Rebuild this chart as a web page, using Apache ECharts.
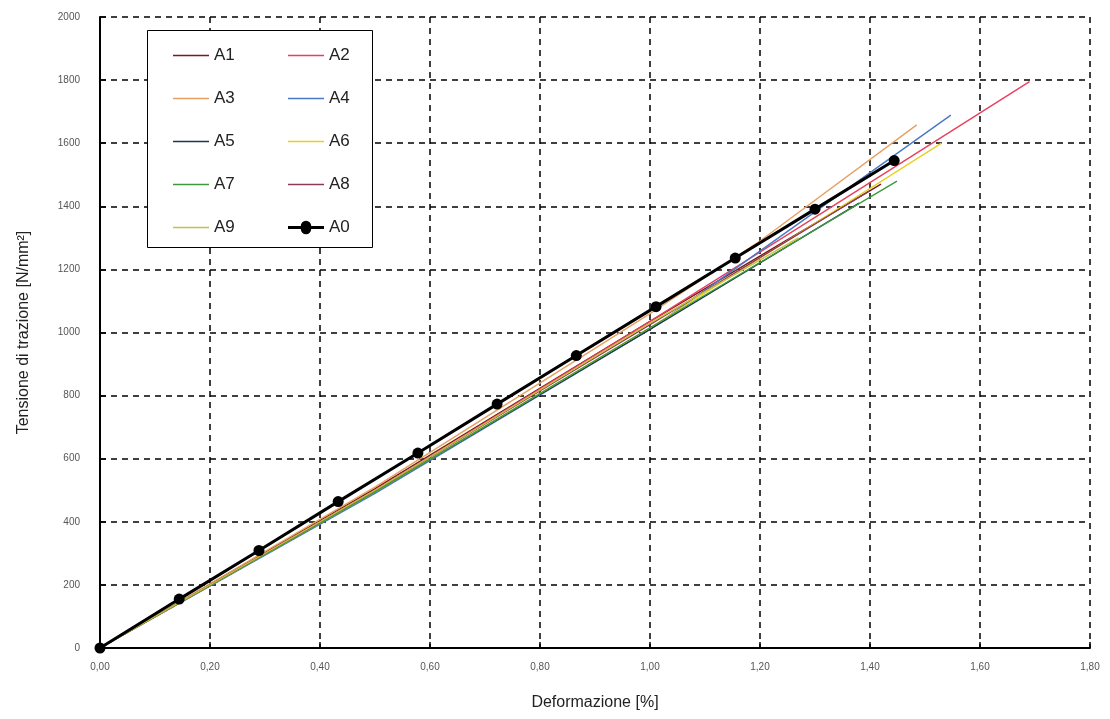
<!DOCTYPE html>
<html>
<head>
<meta charset="utf-8">
<script src="https://cdn.jsdelivr.net/npm/echarts@6/dist/echarts.min.js"></script>
<style>html,body{margin:0;padding:0;background:#fff}#c{width:1110px;height:719px}</style>
</head>
<body>
<div id="c"></div>
<script>
const xTicks = [0, 0.2, 0.4, 0.6, 0.8, 1.0, 1.2, 1.4, 1.6, 1.8];
const yTicks = [0, 200, 400, 600, 800, 1000, 1200, 1400, 1600, 1800, 2000];

const strainA0 = [0, 0.144, 0.289, 0.433, 0.578, 0.722, 0.866, 1.011, 1.155, 1.300, 1.444];
const stressA0 = [0, 155, 309, 464, 618, 773, 927, 1082, 1236, 1391, 1545];

const strainA1 = [0, 0.5, 1.0, 1.42];
const stressA1 = [0, 505, 1035, 1470];
const strainA2 = [0, 0.5, 1.0, 1.3, 1.69];
const stressA2 = [0, 500, 1035, 1365, 1795];
const strainA3 = [0, 0.5, 1.0, 1.2, 1.485];
const stressA3 = [0, 510, 1060, 1290, 1658];
const strainA4 = [0, 0.5, 1.0, 1.455, 1.547];
const stressA4 = [0, 490, 1010, 1575, 1689];
const strainA5 = [0, 0.5, 1.0, 1.38];
const stressA5 = [0, 495, 1010, 1410];
const strainA6 = [0, 0.5, 1.0, 1.53];
const stressA6 = [0, 495, 1015, 1600];
const strainA7 = [0, 0.5, 1.0, 1.449];
const stressA7 = [0, 495, 1015, 1480];
const strainA8 = [0, 0.5, 1.0, 1.40];
const stressA8 = [0, 500, 1025, 1450];
const strainA9 = [0, 0.5, 1.0, 1.27];
const stressA9 = [0, 500, 1030, 1300];

const names = ['A1','A2','A3','A4','A5','A6','A7','A8','A9','A0'];
const strains = [strainA1,strainA2,strainA3,strainA4,strainA5,strainA6,strainA7,strainA8,strainA9,strainA0];
const stresses = [stressA1,stressA2,stressA3,stressA4,stressA5,stressA6,stressA7,stressA8,stressA9,stressA0];

const colorMap = {A1:'#7a1a1a',A2:'#e8405a',A3:'#e8a060',A4:'#4a78c8',A5:'#1f3550',A6:'#e8d020',A7:'#3c9a3c',A8:'#8a3a5a',A9:'#c8c040',A0:'#000000'};

const pair = (xs, ys) => xs.map((x, i) => [x, ys[i]]);
const thinLineIcon = 'path://M0,0h40v1.4h-40z';
const markerLineIcon = 'path://M0,8.3h14.2a5.8,5.8 0 1 1 11.6,0h14.2v3.4h-14.2a5.8,5.8 0 1 1 -11.6,0h-14.2z';

const series = names.map((n, i) => {
  const isA0 = n === 'A0';
  return {
    name: n,
    type: 'line',
    data: pair(strains[i], stresses[i]),
    symbol: isA0 ? 'circle' : 'none',
    symbolSize: isA0 ? 11 : 0,
    showSymbol: isA0,
    z: isA0 ? 5 : 3,
    lineStyle: { color: colorMap[n], width: isA0 ? 3 : 1.4 },
    itemStyle: { color: colorMap[n] },
    animation: false
  };
});

const legendItem = n => ({ name: n, icon: n === 'A0' ? markerLineIcon : thinLineIcon, itemStyle: { color: colorMap[n], borderWidth: 0 } });

const chart = echarts.init(document.getElementById('c'), null, {renderer: 'canvas'});
const fmtX = v => v.toFixed(2).replace('.', ',');
const legendCommon = {
  orient: 'vertical',
  itemWidth: 36,
  itemHeight: 14,
  itemGap: 26,
  textStyle: { fontSize: 17, color: '#222', fontFamily: 'Liberation Sans, Arial, sans-serif' }
};
chart.setOption({
  animation: false,
  backgroundColor: '#fff',
  grid: { left: 100, right: 20, top: 17, bottom: 71, containLabel: false },
  xAxis: {
    type: 'value', min: 0, max: 1.8, interval: 0.2,
    name: 'Deformazione [%]', nameLocation: 'middle', nameGap: 47,
    nameTextStyle: { fontSize: 16, color: '#222', fontFamily: 'Liberation Sans, Arial, sans-serif' },
    axisLine: { show: true, onZero: false, lineStyle: { color: '#000', width: 2 } },
    axisTick: { show: true, inside: true, length: 6, lineStyle: { color: '#000', width: 1.5 } },
    axisLabel: { formatter: fmtX, fontSize: 10, color: '#555', margin: 14, fontFamily: 'Liberation Sans, Arial, sans-serif' },
    splitLine: { show: true, lineStyle: { color: '#000', type: [6, 5], width: 1.5 } }
  },
  yAxis: {
    type: 'value', min: 0, max: 2000, interval: 200,
    name: 'Tensione di trazione [N/mm²]', nameLocation: 'middle', nameGap: 68,
    nameTextStyle: { fontSize: 16, color: '#222', fontFamily: 'Liberation Sans, Arial, sans-serif' },
    axisLine: { show: true, onZero: false, lineStyle: { color: '#000', width: 2 } },
    axisTick: { show: true, inside: true, length: 6, lineStyle: { color: '#000', width: 1.5 } },
    axisLabel: { formatter: v => String(v), fontSize: 10, color: '#555', margin: 20, fontFamily: 'Liberation Sans, Arial, sans-serif' },
    splitLine: { show: true, lineStyle: { color: '#000', type: [6, 5], width: 1.5 } }
  },
  graphic: [{
    type: 'rect', left: 147, top: 30, z: 50,
    shape: { width: 225, height: 217 },
    style: { fill: '#fff', stroke: '#000', lineWidth: 1 }
  }],
  legend: [
    Object.assign({}, legendCommon, { left: 168, top: 42, data: ['A1','A3','A5','A7','A9'].map(legendItem), z: 60 }),
    Object.assign({}, legendCommon, { left: 283, top: 42, data: ['A2','A4','A6','A8','A0'].map(legendItem), z: 60 })
  ],
  series: series
});
</script>
</body>
</html>
